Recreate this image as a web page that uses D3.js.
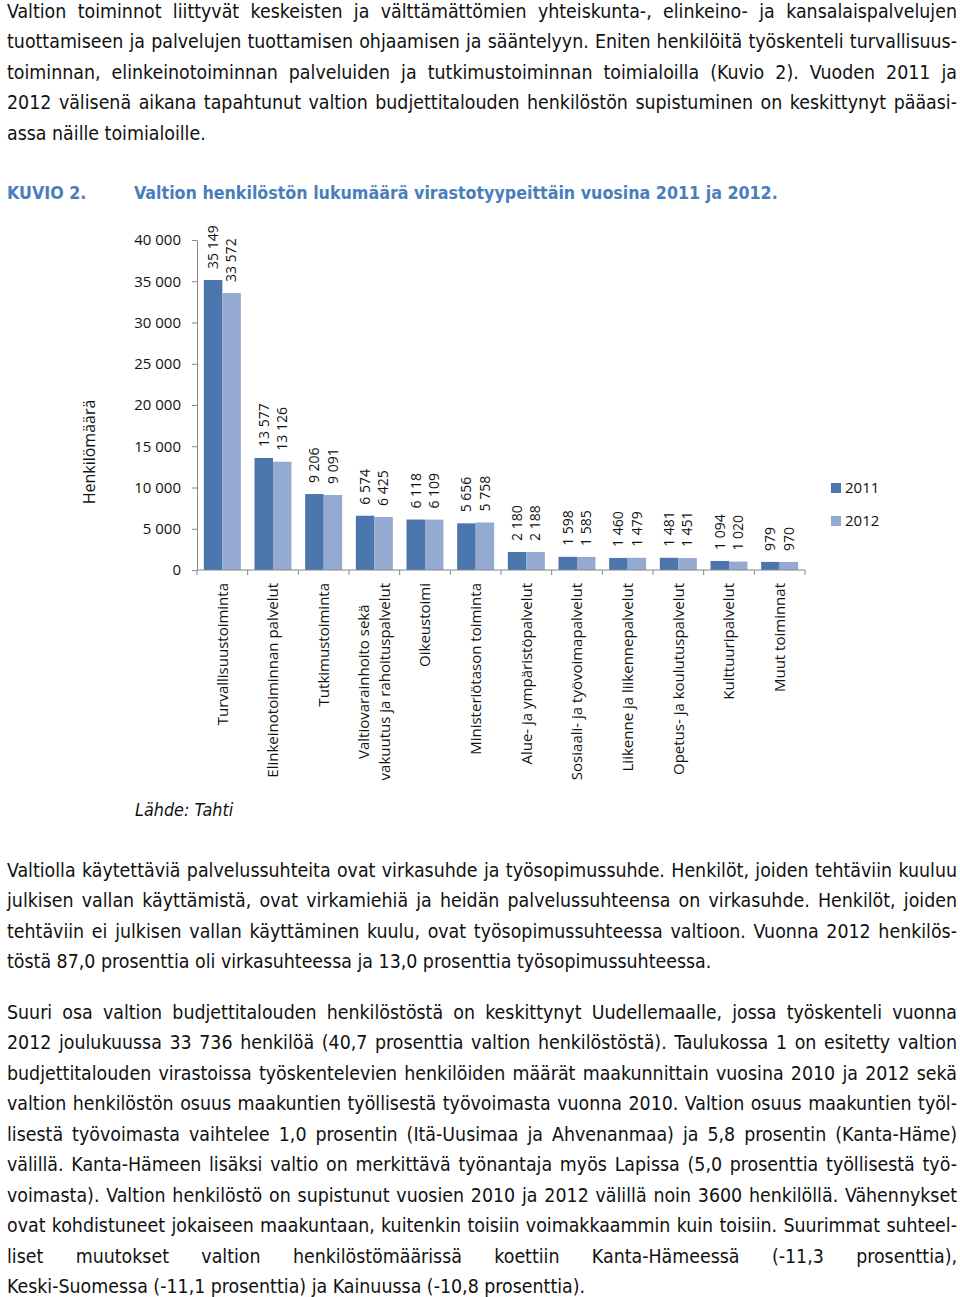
<!DOCTYPE html>
<html>
<head>
<meta charset="utf-8">
<script src="https://cdn.jsdelivr.net/npm/d3@7"></script>
<style>
  body { margin: 0; background: #fff; }
  svg { display: block; }
</style>
</head>
<body>
<svg id="page" width="960" height="1297"></svg>
<script>
'use strict';

// chart data
var categories = [
    'Turvallisuustoiminta',
    'Elinkeinotoiminnan palvelut',
    'Tutkimustoiminta',
    'Valtiovarainhoito sekä\nvakuutus ja rahoituspalvelut',
    'Oikeustoimi',
    'Ministeriötason toiminta',
    'Alue- ja ympäristöpalvelut',
    'Sosiaali- ja työvoimapalvelut',
    'Liikenne ja liikennepalvelut',
    'Opetus- ja koulutuspalvelut',
    'Kulttuuripalvelut',
    'Muut toiminnat'
];
var values2011 = [35149, 13577, 9206, 6574, 6118, 5656, 2180, 1598, 1460, 1481, 1094, 979];
var values2012 = [33572, 13126, 9091, 6425, 6109, 5758, 2188, 1585, 1479, 1451, 1020, 970];
var seriesNames = ['2011', '2012'];
var yTicks = [0, 5000, 10000, 15000, 20000, 25000, 30000, 35000, 40000];

// page text, one entry per printed line
var para1 = [
    'Valtion toiminnot liittyvät keskeisten ja välttämättömien yhteiskunta-, elinkeino- ja kansalaispalvelujen',
    'tuottamiseen ja palvelujen tuottamisen ohjaamisen ja sääntelyyn. Eniten henkilöitä työskenteli turvallisuus-',
    'toiminnan, elinkeinotoiminnan palveluiden ja tutkimustoiminnan toimialoilla (Kuvio 2). Vuoden 2011 ja',
    '2012 välisenä aikana tapahtunut valtion budjettitalouden henkilöstön supistuminen on keskittynyt pääasi-',
    'assa näille toimialoille.'
];
var para2 = [
    'Valtiolla käytettäviä palvelussuhteita ovat virkasuhde ja työsopimussuhde. Henkilöt, joiden tehtäviin kuuluu',
    'julkisen vallan käyttämistä, ovat virkamiehiä ja heidän palvelussuhteensa on virkasuhde. Henkilöt, joiden',
    'tehtäviin ei julkisen vallan käyttäminen kuulu, ovat työsopimussuhteessa valtioon. Vuonna 2012 henkilös-',
    'töstä 87,0 prosenttia oli virkasuhteessa ja 13,0 prosenttia työsopimussuhteessa.'
];
var para3 = [
    'Suuri osa valtion budjettitalouden henkilöstöstä on keskittynyt Uudellemaalle, jossa työskenteli vuonna',
    '2012 joulukuussa 33 736 henkilöä (40,7 prosenttia valtion henkilöstöstä). Taulukossa 1 on esitetty valtion',
    'budjettitalouden virastoissa työskentelevien henkilöiden määrät maakunnittain vuosina 2010 ja 2012 sekä',
    'valtion henkilöstön osuus maakuntien työllisestä työvoimasta vuonna 2010. Valtion osuus maakuntien työl-',
    'lisestä työvoimasta vaihtelee 1,0 prosentin (Itä-Uusimaa ja Ahvenanmaa) ja 5,8 prosentin (Kanta-Häme)',
    'välillä. Kanta-Hämeen lisäksi valtio on merkittävä työnantaja myös Lapissa (5,0 prosenttia työllisestä työ-',
    'voimasta). Valtion henkilöstö on supistunut vuosien 2010 ja 2012 välillä noin 3600 henkilöllä. Vähennykset',
    'ovat kohdistuneet jokaiseen maakuntaan, kuitenkin toisiin voimakkaammin kuin toisiin. Suurimmat suhteel-',
    'liset muutokset valtion henkilöstömäärissä koettiin Kanta-Hämeessä (-11,3 prosenttia),',
    'Keski-Suomessa (-11,1 prosenttia) ja Kainuussa (-10,8 prosenttia).'
];

var bodyFont = '"Liberation Sans Narrow", "DejaVu Sans Condensed", "Arial Narrow", sans-serif';
var chartFont = '"Open Sans", "Noto Sans", sans-serif';
var colors = ['#4a75ad', '#95aad1'];
var axisColor = '#868686';
var titleColor = '#4a7ebb';

var svg = d3.select('#page');
var textLeft = 7, textRight = 957;

// pick a body font size so the natural width is close to the original
var probe = svg.append('text')
    .style('font-family', bodyFont)
    .style('font-size', '20px')
    .text(para2[3]);
var bodySize = 20 * 705 / probe.node().getComputedTextLength();
probe.remove();

function paragraph(lines, firstBaseline) {
    lines.forEach(function(line, i) {
        var t = svg.append('text')
            .attr('x', textLeft)
            .attr('y', firstBaseline + i * 30.45)
            .style('font-family', bodyFont)
            .style('font-size', bodySize + 'px')
            .attr('fill', '#111')
            .text(line);
        if (i < lines.length - 1) {
            var gaps = line.split(' ').length - 1;
            var natural = t.node().getComputedTextLength();
            if (gaps > 0) {
                t.style('word-spacing', ((textRight - textLeft - natural) / gaps) + 'px');
            }
        }
    });
}

paragraph(para1, 18);
paragraph(para2, 877);
paragraph(para3, 1019);

// figure heading
var kuvio = svg.append('text')
    .attr('x', 7).attr('y', 199)
    .style('font-family', bodyFont)
    .style('font-weight', 'bold')
    .style('font-size', '20px')
    .attr('fill', titleColor)
    .text('KUVIO 2.');
var heading = svg.append('text')
    .attr('x', 134).attr('y', 199)
    .style('font-family', bodyFont)
    .style('font-weight', 'bold')
    .style('font-size', '20px')
    .attr('fill', titleColor)
    .text('Valtion henkilöstön lukumäärä virastotyypeittäin vuosina 2011 ja 2012.');
var headSize = 20 * 644 / heading.node().getComputedTextLength();
heading.style('font-size', headSize + 'px');
kuvio.style('font-size', headSize + 'px');

// chart
var fmt = d3.formatLocale({ decimal: ',', thousands: ' ', grouping: [3], currency: ['', ''] }).format(',d');

var y = d3.scaleLinear().domain([0, 40000]).range([570, 240]);
var x = d3.scaleBand().domain(categories).range([197, 805]).paddingInner(0.27).paddingOuter(0.135);
var xs = d3.scaleBand().domain(seriesNames).range([0, x.bandwidth()]);

var chart = svg.append('g').style('font-family', chartFont);

var rows = categories.map(function(c, i) {
    return { cat: c, vals: [values2011[i], values2012[i]] };
});

var groups = chart.selectAll('g.cat')
    .data(rows)
    .enter().append('g')
    .attr('class', 'cat')
    .attr('transform', function(d) { return 'translate(' + x(d.cat) + ',0)'; });

groups.selectAll('rect')
    .data(function(d) { return d.vals.map(function(v, j) { return { v: v, s: seriesNames[j], j: j }; }); })
    .enter().append('rect')
    .attr('x', function(d) { return xs(d.s); })
    .attr('width', xs.bandwidth())
    .attr('y', function(d) { return y(d.v); })
    .attr('height', function(d) { return y(0) - y(d.v); })
    .attr('fill', function(d) { return colors[d.j]; });

groups.selectAll('text.val')
    .data(function(d) { return d.vals.map(function(v, j) { return { v: v, s: seriesNames[j] }; }); })
    .enter().append('text')
    .attr('class', 'val')
    .attr('transform', function(d) {
        return 'translate(' + (xs(d.s) + xs.bandwidth() / 2) + ',' + (y(d.v) - 11) + ') rotate(-90)';
    })
    .attr('dy', '0.35em')
    .style('font-size', '14px')
    .attr('fill', '#111')
    .text(function(d) { return fmt(d.v); });

// y axis
var yAxis = chart.append('g')
    .attr('transform', 'translate(197,0)')
    .call(d3.axisLeft(y).tickValues(yTicks).tickSize(5).tickSizeOuter(0).tickPadding(11).tickFormat(fmt));
yAxis.select('.domain').attr('stroke', axisColor);
yAxis.selectAll('.tick line').attr('stroke', axisColor);
yAxis.selectAll('.tick text')
    .style('font-family', chartFont)
    .style('font-size', '15px')
    .attr('fill', '#111');

// x axis line and category dividers
chart.append('line')
    .attr('x1', 197).attr('x2', 805)
    .attr('y1', y(0)).attr('y2', y(0))
    .attr('stroke', axisColor);
chart.selectAll('line.div')
    .data(d3.range(categories.length + 1))
    .enter().append('line')
    .attr('class', 'div')
    .attr('x1', function(i) { return x.range()[0] + i * x.step(); })
    .attr('x2', function(i) { return x.range()[0] + i * x.step(); })
    .attr('y1', y(0)).attr('y2', y(0) + 5)
    .attr('stroke', axisColor);

// category labels
groups.each(function(d) {
    var g = d3.select(this);
    var lines = d.cat.split('\n');
    var cx = x.bandwidth() / 2;
    var lab = g.append('g').style('font-size', '15px').attr('fill', '#111');
    var texts = lines.map(function(l) { return lab.append('text').text(l); });
    var w = d3.max(texts, function(t) { return t.node().getComputedTextLength(); });
    var lh = 21;
    texts.forEach(function(t, k) {
        var off = (k - (lines.length - 1) / 2) * lh;
        t.attr('text-anchor', 'middle')
            .attr('dy', '0.35em')
            .attr('transform', 'translate(' + (cx + off) + ',' + (583 + w / 2) + ') rotate(-90)');
    });
});

// y title
chart.append('text')
    .attr('transform', 'translate(89,452) rotate(-90)')
    .attr('text-anchor', 'middle')
    .attr('dy', '0.35em')
    .style('font-size', '16px')
    .attr('fill', '#111')
    .text('Henkilömäärä');

// legend
var legend = chart.selectAll('g.leg')
    .data(seriesNames)
    .enter().append('g')
    .attr('class', 'leg')
    .attr('transform', function(d, i) { return 'translate(831,' + (483 + i * 33) + ')'; });
legend.append('rect')
    .attr('width', 10).attr('height', 10)
    .attr('fill', function(d, i) { return colors[i]; });
legend.append('text')
    .attr('x', 14).attr('y', 5)
    .attr('dy', '0.35em')
    .style('font-size', '15px')
    .attr('fill', '#111')
    .text(function(d) { return d; });

// source
svg.append('text')
    .attr('x', 135).attr('y', 816)
    .style('font-family', bodyFont)
    .style('font-style', 'italic')
    .style('font-size', (bodySize * 0.92) + 'px')
    .attr('fill', '#111')
    .text('Lähde: Tahti');
</script>
</body>
</html>
